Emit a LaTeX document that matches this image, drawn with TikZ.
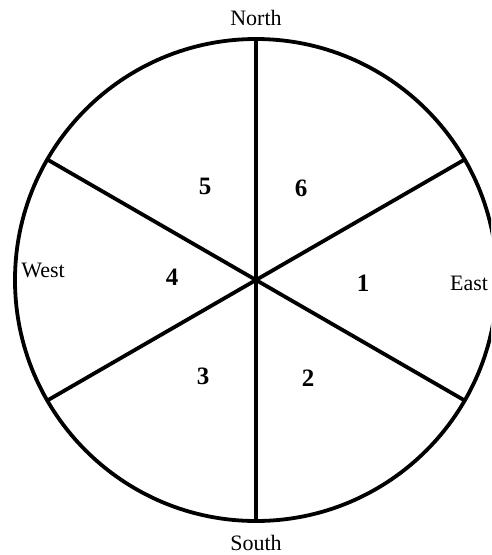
\documentclass[tikz,border=0pt]{standalone}
\usepackage{fontspec}
\setmainfont{Liberation Serif}
\begin{document}
\begin{tikzpicture}[x=1pt,y=-1pt,
  lbl/.style={font=\fontsize{22}{22}\selectfont, inner sep=0pt},
  num/.style={font=\fontsize{25}{25}\selectfont\bfseries, inner sep=0pt},
  thick line/.style={line width=3.8pt}]
\useasboundingbox (0,0) rectangle (491,555);
\clip (0,0) rectangle (491,555);
\coordinate (c) at (256,280);
\coordinate (p1) at (464.7,159.5);
\coordinate (p2) at (256,39);
\coordinate (p3) at (47.3,159.5);
\coordinate (p4) at (47.3,400.5);
\coordinate (p5) at (256,521);
\coordinate (p6) at (464.7,400.5);
\draw[thick line] (c) circle[radius=241pt];
\foreach \p in {p1,p2,p3,p4,p5,p6} \draw[thick line] (c) -- (\p);
\node[lbl] (north) at (256,18) {North};
\node[lbl] (south) at (256,543) {South};
\node[lbl] (west) at (43,270) {West};
\node[lbl] (east) at (469,283) {East};
\node[num] (n5) at (205,186) {5};
\node[num] (n6) at (301,188) {6};
\node[num] (n4) at (172,277) {4};
\node[num] (n1) at (363,283) {1};
\node[num] (n3) at (203,376) {3};
\node[num] (n2) at (308,378) {2};
\end{tikzpicture}
\end{document}
